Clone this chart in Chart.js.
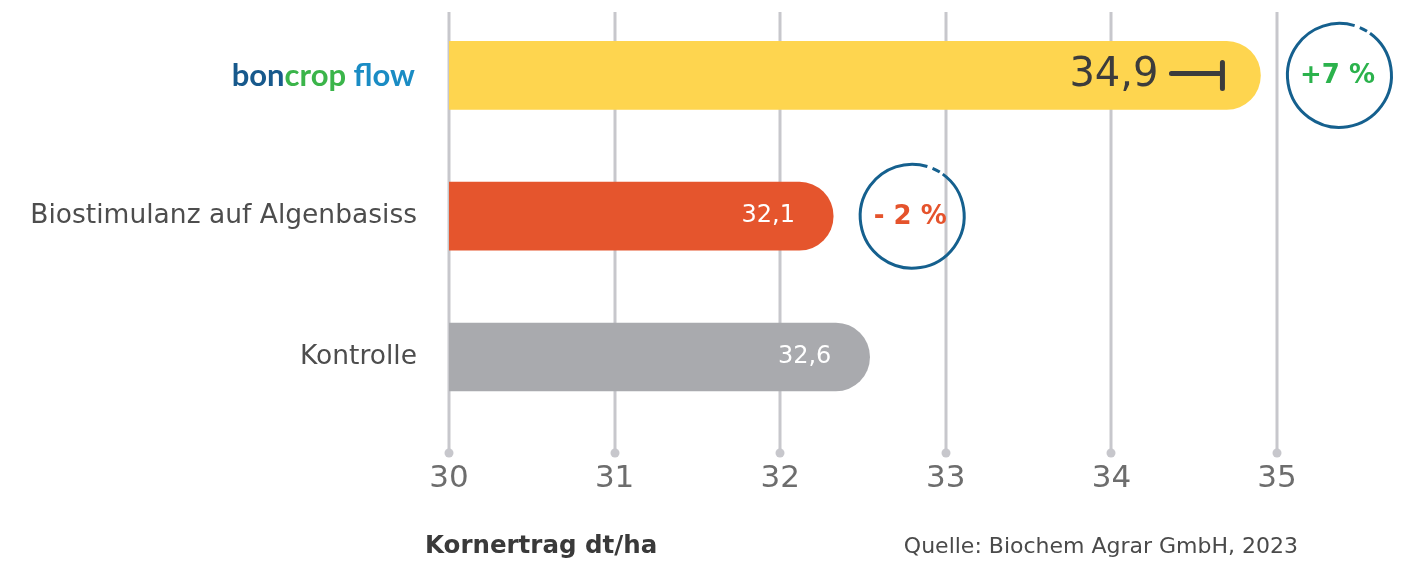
<!DOCTYPE html>
<html>
<head>
<meta charset="utf-8">
<script src="https://cdn.jsdelivr.net/npm/chart.js@4.4.1/dist/chart.umd.min.js"></script>
<style>
    html, body { margin: 0; padding: 0; background: #fff; }
</style>
</head>
<body>
<canvas id="yield-chart" width="1421" height="562"></canvas>
<script>
// Data
const categories = ['boncrop flow', 'Biostimulanz auf Algenbasiss', 'Kontrolle'];
const barValues = [34.9, 32.32, 32.54];          // bar lengths as drawn
const valueLabels = ['34,9', '32,1', '32,6'];    // printed numbers
const changeLabels = ['+7 %', '- 2 %', null];
const xTickValues = [30, 31, 32, 33, 34, 35];
const logoParts = ['bon', 'crop', ' flow'];

const barColors = ['#fed54f', '#e5552d', '#a9aaae'];
const changeColors = ['#2bb24c', '#e5532c', null];
const logoColors = ['#17598c', '#3bb54a', '#1a8cc4'];
const FONT = '"DejaVu Sans", Lato, sans-serif';
const LOGO_FONT = 'Lato, "Noto Sans", sans-serif';

// Gridlines with dots, bar annotations, logo and footer
const decorPlugin = {
    id: 'decor',
    beforeDatasetsDraw(chart) {
        const ctx = chart.ctx;
        const xScale = chart.scales.x;
        ctx.save();
        ctx.strokeStyle = '#c7c7cc';
        ctx.fillStyle = '#c7c7cc';
        ctx.lineWidth = 3;
        xTickValues.forEach(v => {
            const px = Math.round(xScale.getPixelForValue(v));
            ctx.beginPath();
            ctx.moveTo(px, 12);
            ctx.lineTo(px, 452);
            ctx.stroke();
            ctx.beginPath();
            ctx.arc(px, 453, 4.5, 0, Math.PI * 2);
            ctx.fill();
        });
        ctx.restore();
    },
    afterDatasetsDraw(chart) {
        const ctx = chart.ctx;
        const meta = chart.getDatasetMeta(0);
        const yScale = chart.scales.y;
        ctx.save();

        meta.data.forEach((bar, i) => {
            const end = bar.x;
            const cy = bar.y;
            ctx.textBaseline = 'middle';
            if (i === 0) {
                // big value with end marker
                ctx.fillStyle = '#3c3c3c';
                ctx.font = '40px ' + FONT;
                ctx.textAlign = 'right';
                ctx.fillText(valueLabels[i], end - 102, cy);
                ctx.strokeStyle = '#3c3c3c';
                ctx.lineWidth = 5;
                ctx.lineCap = 'round';
                ctx.beginPath();
                ctx.moveTo(end - 89, cy - 2);
                ctx.lineTo(end - 38, cy - 2);
                ctx.moveTo(end - 38, cy - 13);
                ctx.lineTo(end - 38, cy + 13);
                ctx.stroke();
            } else {
                ctx.fillStyle = '#ffffff';
                ctx.font = '24px ' + FONT;
                ctx.textAlign = 'center';
                ctx.fillText(valueLabels[i], end - 65, cy);
            }

            if (changeLabels[i]) {
                const cx = end + 79;
                const r = 52;
                const d = Math.PI / 180;
                ctx.strokeStyle = '#15608e';
                ctx.lineWidth = 3;
                ctx.lineCap = 'butt';
                ctx.beginPath();
                ctx.arc(cx, cy, r, -54 * d, -73 * d + Math.PI * 2);
                ctx.stroke();
                ctx.beginPath();
                ctx.arc(cx, cy, r, -67 * d, -58 * d);
                ctx.stroke();
                ctx.fillStyle = changeColors[i];
                ctx.font = 'bold 26px ' + FONT;
                ctx.textAlign = 'center';
                ctx.fillText(changeLabels[i], cx - 2, cy + 1);
            }
        });

        // logo in place of first category label
        const ly = yScale.getPixelForValue(0);
        let size = 30;
        ctx.font = 'bold ' + size + 'px ' + LOGO_FONT;
        const w = ctx.measureText(logoParts.join('')).width;
        size = size * 183 / w;
        ctx.font = 'bold ' + size.toFixed(1) + 'px ' + LOGO_FONT;
        ctx.textBaseline = 'alphabetic';
        ctx.textAlign = 'left';
        let lx = 415 - ctx.measureText(logoParts.join('')).width;
        logoParts.forEach((part, k) => {
            ctx.fillStyle = logoColors[k];
            ctx.fillText(part, lx, ly + 11);
            lx += ctx.measureText(part).width;
        });

        // footer
        ctx.textBaseline = 'middle';
        ctx.fillStyle = '#3a3a3a';
        ctx.font = 'bold 24.5px ' + FONT;
        ctx.textAlign = 'left';
        ctx.fillText('Kornertrag dt/ha', 425, 547);
        ctx.fillStyle = '#4a4a4a';
        ctx.font = '22px ' + FONT;
        ctx.textAlign = 'right';
        ctx.fillText('Quelle: Biochem Agrar GmbH, 2023', 1298, 547);
        ctx.restore();
    }
};

new Chart(document.getElementById('yield-chart'), {
    type: 'bar',
    data: {
        labels: categories,
        datasets: [{
            data: barValues,
            backgroundColor: barColors,
            barThickness: 68,
            borderRadius: 34,
            borderSkipped: 'start'
        }]
    },
    options: {
        indexAxis: 'y',
        responsive: false,
        animation: false,
        layout: {
            padding: { top: 5, right: 144, left: 0, bottom: 0 }
        },
        scales: {
            x: {
                type: 'linear',
                min: 30,
                max: 35,
                afterBuildTicks: scale => {
                    scale.ticks = xTickValues.map(v => ({ value: v }));
                },
                afterFit: scale => {
                    scale.height = 134.6;
                },
                grid: { display: false, drawTicks: false },
                border: { display: false },
                ticks: {
                    padding: 33,
                    color: '#6d6d6d',
                    font: { family: FONT, size: 31 }
                }
            },
            y: {
                offset: true,
                afterFit: scale => {
                    scale.width = 449;
                    scale.paddingTop = 0;
                    scale.paddingBottom = 0;
                },
                grid: { display: false, drawTicks: false },
                border: { display: false },
                ticks: {
                    padding: 32,
                    color: '#4d4d4d',
                    font: { family: FONT, size: 26.5 },
                    callback: function(value, index) {
                        return index === 0 ? '' : categories[index];
                    }
                }
            }
        },
        plugins: {
            legend: { display: false },
            tooltip: { enabled: false }
        }
    },
    plugins: [decorPlugin]
});
</script>
</body>
</html>
